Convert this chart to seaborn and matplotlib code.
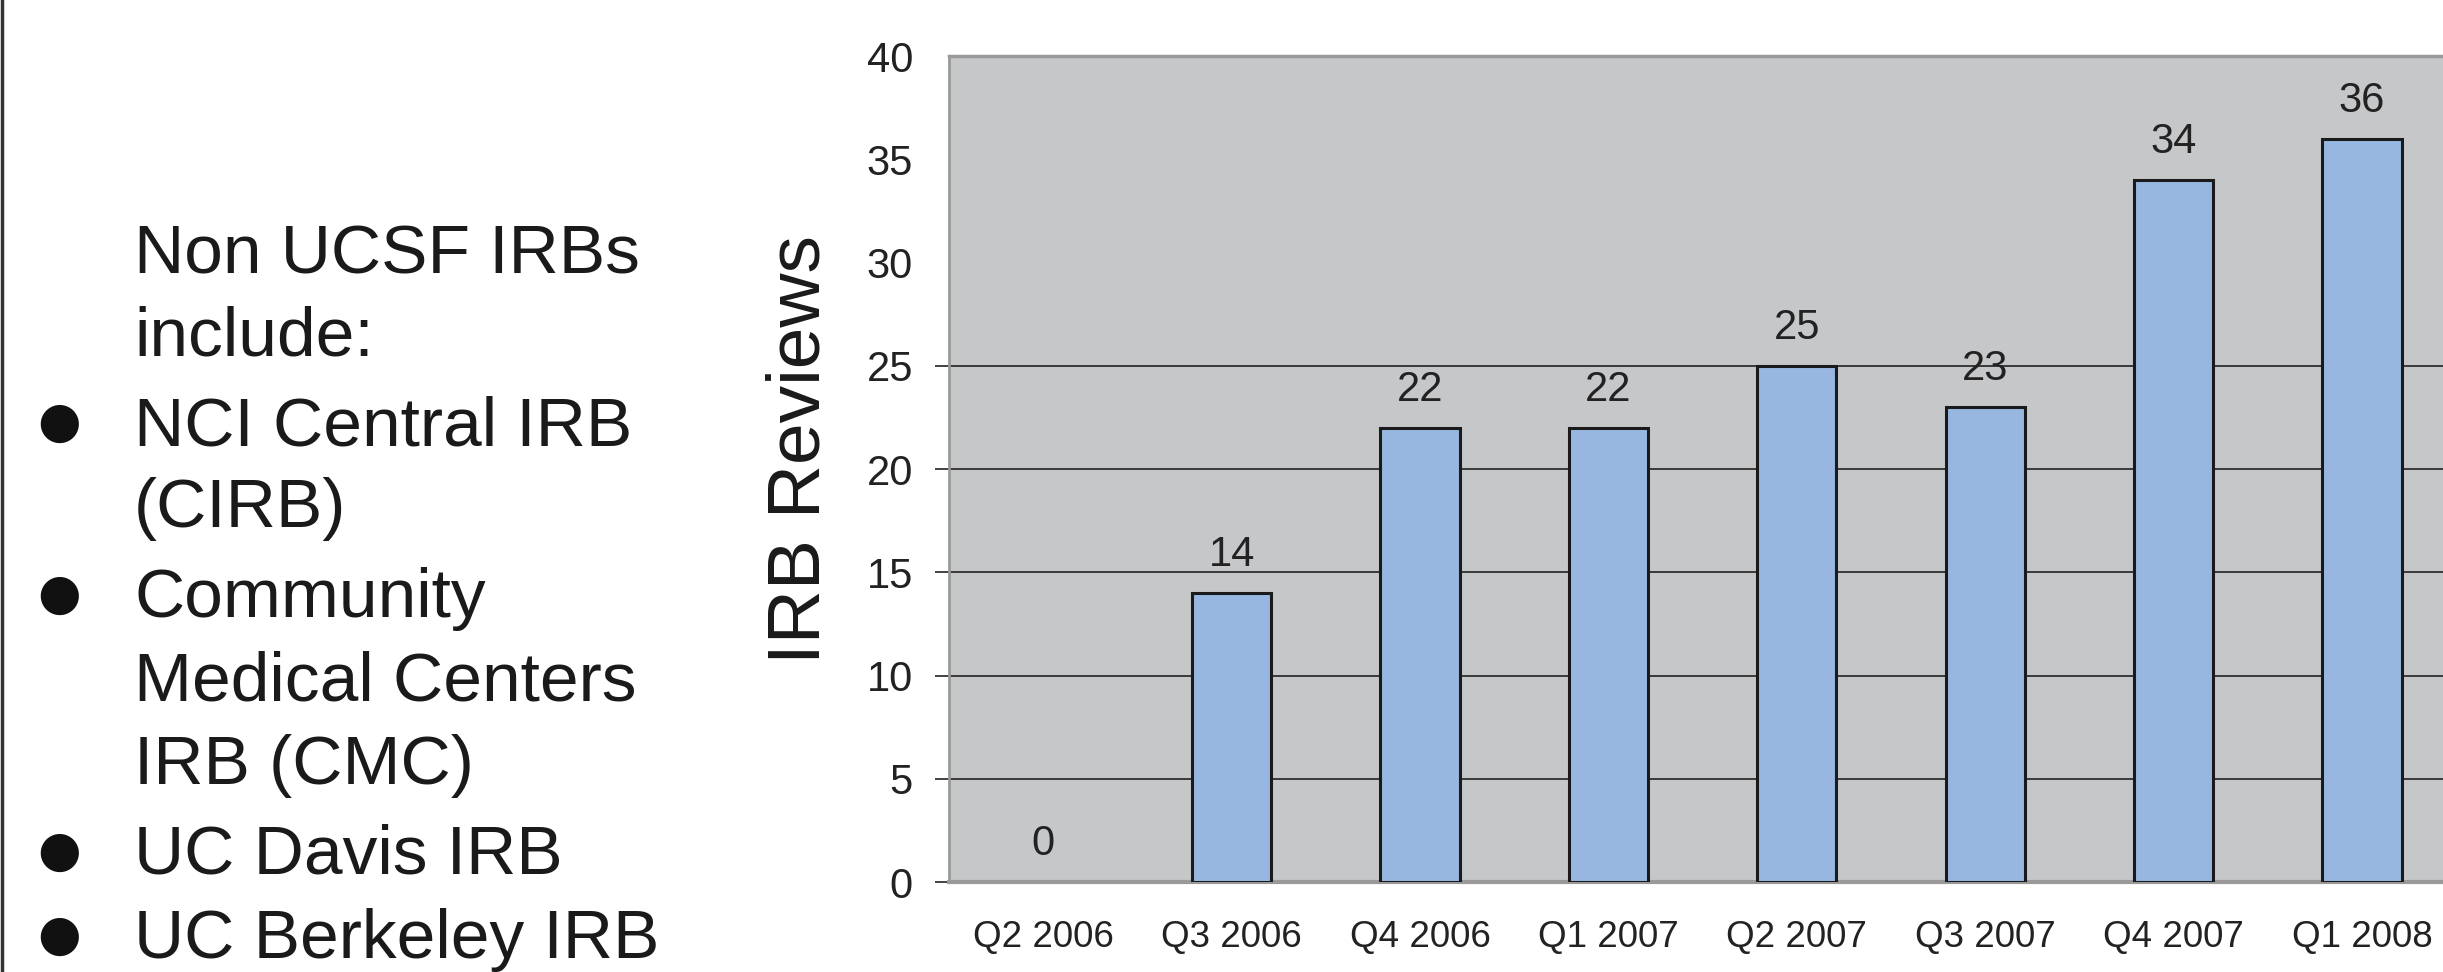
import matplotlib
matplotlib.use("Agg")
import matplotlib.pyplot as plt
import seaborn as sns
import pandas as pd
from matplotlib.lines import Line2D

quarters = ["Q2 2006", "Q3 2006", "Q4 2006", "Q1 2007", "Q2 2007", "Q3 2007", "Q4 2007", "Q1 2008"]
reviews = [0, 14, 22, 22, 25, 23, 34, 36]
y_ticks = [0, 5, 10, 15, 20, 25, 30, 35, 40]
note_lines = ["Non UCSF IRBs", "include:", "NCI Central IRB", "(CIRB)", "Community",
              "Medical Centers", "IRB (CMC)", "UC Davis IRB", "UC Berkeley IRB"]
bullet_lines = [2, 4, 7, 8]

sns.set_theme(style="white")
plt.rcParams['font.family'] = ['Liberation Sans', 'DejaVu Sans']

W, H = 2443, 972
fig = plt.figure(figsize=(W / 100, H / 100), dpi=100)
ax = fig.add_axes([949 / W, 1 - 882 / H, 1 - 949 / W, (882 - 56) / H])
ax.set_facecolor("#C6C7C9")

df = pd.DataFrame({"quarter": quarters, "reviews": reviews})
sns.barplot(data=df, x="quarter", y="reviews", color="#97B7E0", saturation=1,
            width=0.42, edgecolor="#1a1a1a", linewidth=2.2, ax=ax, zorder=3)
for c in ax.containers:
    for p in c.patches:
        if p.get_height() == 0:
            p.set_linewidth(0)
    ax.bar_label(c, labels=[str(v) for v in reviews], padding=13,
                 fontsize=30, color="#222222")

ax.set_xlim(-0.5, 7.43)
ax.set_ylim(0, 40)
ax.set_yticks(y_ticks)
ax.set_yticklabels([str(t) for t in y_ticks], fontsize=30, color="#222222")
ax.tick_params(axis="y", length=10, width=1.2, color="#222222", pad=16, left=True)
ax.tick_params(axis="x", length=0, pad=27, labelsize=26.5, labelcolor="#222222")
ax.set_xlabel("")
ax.grid(axis="y", color="#222222", linewidth=1.2, zorder=0)
ax.grid(axis="x", visible=False)
ax.set_axisbelow(True)
for t, tick in zip(y_ticks, ax.yaxis.get_major_ticks()):
    if t > 25:
        tick.gridline.set_visible(False)
        tick.tick1line.set_visible(False)
    if t == 0:
        tick.gridline.set_visible(False)

ax.set_ylabel("IRB Reviews", fontsize=54, color="#1a1a1a")
ax.yaxis.set_label_coords(-0.100, 0.524)
ax.yaxis.label.set_va("center")

for side in ["left", "top", "bottom"]:
    ax.spines[side].set_visible(True)
    ax.spines[side].set_color("#999999")
ax.spines["left"].set_linewidth(2)
ax.spines["top"].set_linewidth(2.5)
ax.spines["bottom"].set_linewidth(3)
ax.spines["right"].set_visible(False)

# left-hand notes
baselines = [273, 356, 445, 527, 617, 700, 784, 874, 958]
for i, (line, b) in enumerate(zip(note_lines, baselines)):
    fig.text(134 / W, 1 - b / H, line, fontsize=50, color="#1a1a1a",
             ha="left", va="baseline")
    if i in bullet_lines:
        fig.text(59 / W, 1 - (b - 22) / H, "\u25CF", fontsize=36, color="#111111",
                 ha="center", va="center", family=["DejaVu Sans"])

fig.add_artist(Line2D([2 / W, 2 / W], [0, 1], color="#333333", linewidth=2.5,
                      transform=fig.transFigure))

fig.savefig("out.png", dpi=100)
